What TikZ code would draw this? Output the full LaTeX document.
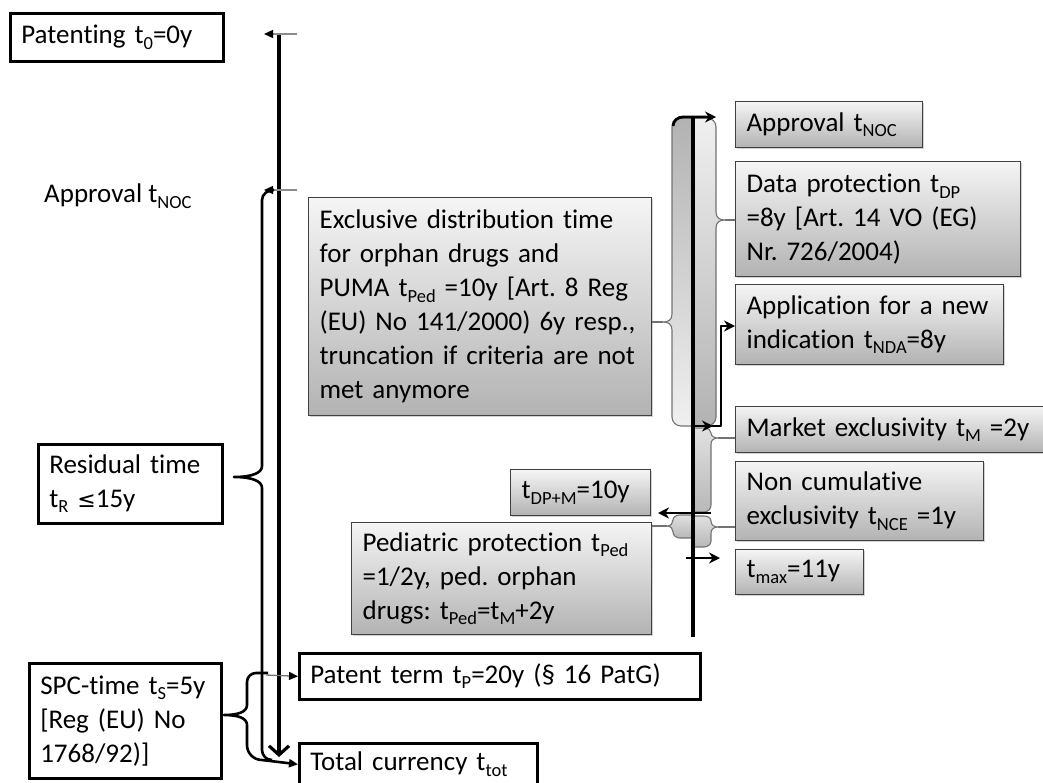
\documentclass[tikz,border=0pt]{standalone}
\usepackage{fontspec}
\setmainfont{Carlito}[Ligatures={NoCommon}]
\newfontfamily\symfont{DejaVu Sans}
\usetikzlibrary{arrows.meta,shadows}
\newcommand{\bodyfont}{\fontsize{27}{34}\selectfont\frenchspacing}
\newcommand{\sbs}[1]{\raisebox{-5.5pt}{\fontsize{18.5}{18.5}\selectfont #1}}

\begin{document}
\begin{tikzpicture}[x=1pt,y=-1pt,
  boxtext/.style={anchor=north west, align=left, inner xsep=11pt, inner ysep=0pt,
    font=\bodyfont, execute at begin node={\rightskip=0pt plus 1fil minus 30pt\relax}},
  wbox/.style={boxtext, draw=black, line width=2.6pt, fill=white},
  gbox/.style={boxtext, draw=black!75, line width=1.2pt, top color=black!4, bottom color=black!30,
    drop shadow={shadow xshift=1.6pt, shadow yshift=-1.6pt, opacity=0.35}},
  colL/.style={draw=black!55, line width=1.1pt, top color=black!30, bottom color=black!6},
  colR/.style={draw=black!55, line width=1.1pt, top color=black!6, bottom color=black!30},
  colS/.style={draw=black!55, line width=1.1pt, top color=black!12, bottom color=black!28},
  tipline/.style={draw=black!55, line width=1.1pt},
  brc/.style={draw=black, line width=2.6pt, line join=round},
  tick/.style={draw=black!45, line width=1.3pt, -{Triangle[length=9pt,width=8pt,color=black]}},
  thinarr/.style={draw=black!55, line width=1.3pt, -{Triangle[length=9pt,width=8pt,color=black]}},
  barr/.style={draw=black, line width=2.8pt, -{Stealth[length=11pt,width=11pt]}},
  timeline/.style={draw=black, line width=3.2pt},
]
\useasboundingbox (0,0) rectangle (1043,782);
\fill[white] (0,0) rectangle (1043,782);

% ---------- left part: patent timeline ----------
\node[wbox, minimum width=213, minimum height=48, text width=191] (patent0) at (9,12)
  {Patenting t\sbs{0}=0y};
\node[anchor=west, inner sep=0pt, font=\bodyfont] (approvalL) at (44,196)
  {Approval t\sbs{NOC}};
\node[wbox, minimum width=184, minimum height=79, text width=162] (residual) at (37,443)
  {Residual time\\ t\sbs{R} {\symfont\fontsize{22}{22}\selectfont ≤}15y};
\node[wbox, minimum width=192, minimum height=115, text width=170] (spc) at (28,662)
  {SPC-time t\sbs{S}=5y\\{}[Reg (EU) No\\ 1768/92)]};
\node[wbox, minimum width=401, minimum height=46, text width=379] (patentterm) at (298,652)
  {Patent term t\sbs{P}=20y (§ 16 PatG)};
\node[wbox, minimum width=238, minimum height=42, text width=216] (total) at (298,742)
  {Total currency t\sbs{tot}};

\coordinate (tA) at (279,34);
\coordinate (tB) at (279,757);
\draw[timeline, -{Straight Barb[length=9pt,width=20pt]}] (tA) -- (tB);
\draw[tick] (297,34) -- (264,34);
\draw[tick] (297,190) -- (264,190);

% brace: residual time
\draw[brc] (274,190) to[out=180,in=90] (262,200) -- (262,466)
  .. controls (262,473) and (252,477) .. (234,477)
  .. controls (252,477) and (262,481) .. (262,488) -- (262,750)
  to[out=-90,in=180] (272,760);

% brace: SPC time
\draw[brc] (268,673) -- (256,673) to[out=180,in=90] (247,682) -- (247,705)
  .. controls (247,712) and (238,715) .. (224,715)
  .. controls (238,715) and (247,718) .. (247,725) -- (247,745);
\draw[thinarr] (266,675) -- (patentterm.west);
\draw[brc, -{Triangle[length=9pt,width=8pt]}] (247,745) to[out=-90,in=180] (262,760)
  -- (total.west);

% ---------- right part: regulatory protection ----------
\path[colL] (693,118) -- (681,118) to[out=180,in=90] (672,127) -- (672,314)
  .. controls (672,320) and (668,322) .. (663,322)
  .. controls (668,322) and (672,324) .. (672,330) -- (672,417)
  to[out=-90,in=180] (681,426) -- (693,426) -- cycle;
\path[colR] (693,118) -- (707,118) to[out=0,in=90] (716,127) -- (716,212)
  .. controls (716,218) and (720,220) .. (725,220)
  .. controls (720,220) and (716,222) .. (716,228) -- (716,417)
  to[out=-90,in=0] (707,426) -- (693,426) -- cycle;
\path[colS] (693,428) -- (705,428) to[out=0,in=90] (711,433)
  .. controls (711,436) and (714,438) .. (718,438)
  .. controls (714,438) and (711,440) .. (711,444) -- (711,505)
  to[out=-90,in=0] (704,512) -- (693,512) -- cycle;
\path[colS] (693,516) -- (704,516) to[out=0,in=90] (711,521)
  .. controls (711,525) and (714,527) .. (718,527)
  .. controls (714,527) and (711,529) .. (711,533) -- (711,541)
  to[out=-90,in=0] (704,547) -- (693,547) -- cycle;
\path[colS] (693,515) -- (680,515) to[out=180,in=90] (673,520)
  .. controls (673,523) and (671,526) .. (667,526)
  .. controls (671,526) and (673,529) .. (673,532)
  to[out=-90,in=180] (680,538) -- (693,538) -- cycle;

\node[gbox, minimum width=343, minimum height=218, text width=321] (excl) at (308,197)
  {Exclusive distribution time\\ for orphan drugs and\\ PUMA t\sbs{Ped} =10y [Art. 8 Reg\\
   (EU) No 141/2000) 6y resp.,\\ truncation if criteria are not\\ met anymore};
\node[gbox, minimum width=187, minimum height=46, text width=165] (apprR) at (735,101)
  {Approval t\sbs{NOC}};
\node[gbox, minimum width=285, minimum height=115, text width=263] (dp) at (735,161)
  {Data protection t\sbs{DP}\\ =8y [Art. 14 VO (EG)\\ Nr. 726/2004)};
\node[gbox, minimum width=268, minimum height=80, text width=246] (nda) at (735,284)
  {Application for a new\\ indication t\sbs{NDA}=8y};
\node[gbox, minimum width=320, minimum height=46, text width=298] (mkt) at (735,406)
  {Market exclusivity t\sbs{M} =2y};
\node[gbox, minimum width=248, minimum height=79, text width=226] (nce) at (735,461)
  {Non cumulative\\ exclusivity t\sbs{NCE} =1y};
\node[gbox, minimum width=128, minimum height=45, text width=106] (tmax) at (735,549)
  {t\sbs{max}=11y};
\node[gbox, minimum width=140, minimum height=46, text width=118] (tdpm) at (510,469)
  {t\sbs{DP+M}=10y};
\node[gbox, minimum width=300, minimum height=112, text width=278] (ped) at (351,522)
  {Pediatric protection t\sbs{Ped}\\ =1/2y, ped. orphan\\ drugs: t\sbs{Ped}=t\sbs{M}+2y};

% brace tips to their boxes
\draw[tipline] (663,322) -- (excl.east |- 0,322);
\draw[tipline] (725,220) -- (dp.west |- 0,220);
\draw[tipline] (718,438) -- (mkt.west |- 0,438);
\draw[tipline] (718,527) -- (nce.west |- 0,527);
\draw[tipline] (667,526) -- (ped.east |- 0,526);

\coordinate (rA) at (693,117);
\coordinate (rB) at (693,637);
\draw[timeline] (rA) -- (rB);

% arrows along the protection timeline
\coordinate (dpmEnd) at (658,513);
\coordinate (maxEnd) at (720,558);
\draw[barr] (673,126) to[out=90,in=180] (683,117) -- (716,117);
\draw[barr] (693,426) -- (713,426);
\draw[brc, line width=2.6pt, -{Stealth[length=11pt,width=11pt]}] (710,426) -- (721,426)
  -- (721,326) -- (nda.west |- 0,326);
\draw[barr] (711,513) -- (dpmEnd);
\draw[barr] (686,558) -- (maxEnd);
\end{tikzpicture}
\end{document}
